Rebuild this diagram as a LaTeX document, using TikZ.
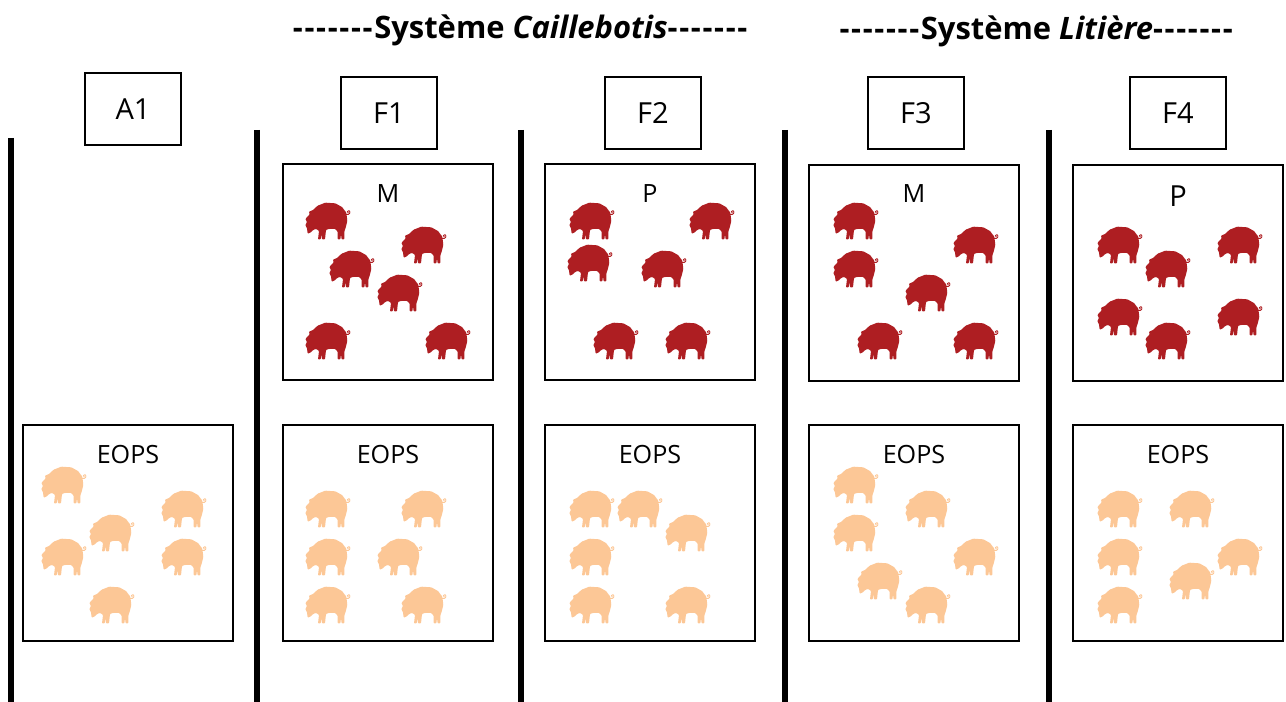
\documentclass[tikz,border=0pt]{standalone}
\usepackage{fontspec}
\setmainfont{Open Sans}
\usepackage{xcolor}
\definecolor{pigdark}{HTML}{AE1E22}
\definecolor{piglight}{HTML}{FCC796}
\newcommand{\onedash}{-\kern.95pt}
\newcommand{\sevendash}{\onedash\onedash\onedash\onedash\onedash\onedash\onedash}
\tikzset{
  lab/.style={draw,line width=0.8pt,minimum width=1.92cm,minimum height=1.44cm,font=\fontsize{16.5}{18}\selectfont},
  pen/.style={draw,line width=0.8pt,minimum width=4.2cm,minimum height=4.32cm},
  pentitle/.style={font=\fontsize{14.3}{16}\selectfont},
  systitle/.style={font=\fontsize{17.6}{20}\selectfont\bfseries},
  wall/.style={line width=3.4pt},
  pig/.pic={
    \fill[scale=1/3,rounded corners=.4pt] (-65,-6) -- (-52,-20) -- (-54,-28) -- (-42,-33) -- (-28,-46) -- (-5,-55) -- (25,-53) -- (45,-42) -- (58,-25) -- (61,0) -- (56,20) -- (52,32) -- (52,55) -- (44,55) -- (42,40) -- (40,55) -- (32,55) -- (32,32) -- (25,24) -- (5,24) -- (-3,27) -- (-6,55) -- (-15,55) -- (-16,40) -- (-19,55) -- (-27,55) -- (-24,30) -- (-32,24) -- (-40,26) -- (-50,35) -- (-58,38) -- (-60,22) -- (-65,12) -- (-60,3) -- cycle;
    \draw[scale=1/3,line width=.5pt] (57,-20) .. controls (68,-16) and (72,-28) .. (66,-31) .. controls (60,-32) and (60,-25) .. (64,-24);
  }
}
\begin{document}
\begin{tikzpicture}[x=0.02cm,y=-0.02cm]
\useasboundingbox (0,0) rectangle (1286,702);

% titles
\node[systitle] (caill) at (521,30) {\sevendash Système \textit{Caillebotis}\sevendash};
\node[systitle] (lit) at (1037,31) {\sevendash Système \textit{Litière}\sevendash};

% walls
\draw[wall] (11,138) -- (11,702);
\foreach \wx in {257,521,785,1049}
  \draw[wall] (\wx,130) -- (\wx,702);

% lots
\node[lab] (a1) at (133,109) {A1};
\node[lab] (f1) at (389,113) {F1};
\node[lab] (f2) at (653,113) {F2};
\node[lab] (f3) at (916,113) {F3};
\node[lab] (f4) at (1178,113) {F4};

% pens
\node[pen] (m1) at (388,272) {};
\node[pen] (p2) at (650,272) {};
\node[pen] (m3) at (914,273) {};
\node[pen] (p4) at (1178,273) {};
\node[pen] (ea) at (128,533) {};
\node[pen] (e1) at (388,533) {};
\node[pen] (e2) at (650,533) {};
\node[pen] (e3) at (914,533) {};
\node[pen] (e4) at (1178,533) {};

\node[pentitle] (tm1) at (388,194) {M};
\node[pentitle] (tp2) at (650,194) {P};
\node[pentitle] (tm3) at (914,194) {M};
\node[pentitle,font=\fontsize{16.5}{18}\selectfont] (tp4) at (1178,196) {P};
\node[pentitle] (tea) at (128,455) {EOPS};
\node[pentitle] (te1) at (388,455) {EOPS};
\node[pentitle] (te2) at (650,455) {EOPS};
\node[pentitle] (te3) at (914,455) {EOPS};
\node[pentitle] (te4) at (1178,455) {EOPS};

% pigs
\foreach \px/\py in {327/221,423/245,351/269,399/293,327/341,447/341,
  591/221,711/221,589/263,663/269,615/341,687/341,
  855/221,975/245,855/269,927/293,879/341,975/341,
  1119/245,1239/245,1167/269,1119/317,1239/317,1167/341}
  \pic[pigdark,fill=pigdark] at (\px,\py) {pig};
\foreach \px/\py in {63/485,183/509,111/533,63/557,183/557,111/605,
  327/509,423/509,327/557,399/557,327/605,423/605,
  591/509,639/509,687/533,591/557,591/605,687/605,
  855/485,927/509,855/533,975/557,879/581,927/605,
  1119/509,1191/509,1119/557,1239/557,1191/581,1119/605}
  \pic[piglight,fill=piglight] at (\px,\py) {pig};
\end{tikzpicture}
\end{document}
